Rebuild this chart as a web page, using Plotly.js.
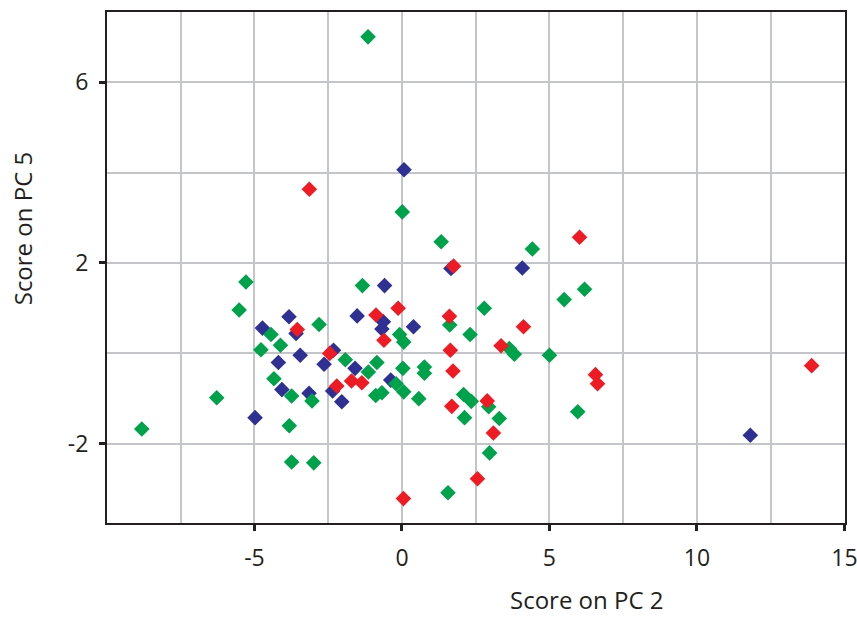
<!DOCTYPE html>
<html>
<head>
<meta charset="utf-8">
<script src="https://cdn.plot.ly/plotly-3.0.1.min.js"></script>
<style>html,body{margin:0;padding:0;background:#fff;}#chart{width:857px;height:620px;}</style>
</head>
<body>
<div id="chart"></div>
<script>
// Scores on PC 2 (x) and PC 5 (y), three groups
const greenX = [-1.15, 0.01, 1.33, 4.42, 6.19, 5.50, -5.29, -5.52, -1.34, 2.79, 5.00, 5.96, -6.28, -8.82, 1.56, 2.97, -3.74, -2.99, -3.82, -4.44, -2.81, -4.12, -4.78, -4.34, -3.74, -3.05, -0.08, 0.06, -1.92, -0.85, -1.14, 0.03, 0.76, 0.76, -0.20, 0.06, -0.89, -0.68, 0.57, 1.62, 2.31, 3.64, 3.81, 2.09, 2.35, 2.94, 2.12, 3.30];
const greenY = [7.00, 3.13, 2.47, 2.31, 1.42, 1.19, 1.58, 0.96, 1.50, 1.00, -0.04, -1.29, -0.98, -1.67, -3.08, -2.20, -2.40, -2.42, -1.60, 0.42, 0.64, 0.18, 0.08, -0.56, -0.94, -1.05, 0.42, 0.25, -0.14, -0.20, -0.41, -0.33, -0.30, -0.44, -0.67, -0.85, -0.93, -0.87, -1.00, 0.63, 0.42, 0.11, -0.02, -0.91, -1.06, -1.18, -1.42, -1.44];

const redX = [-3.14, 6.02, 1.75, -0.13, -0.88, -3.55, -0.61, -2.45, -2.21, -1.71, -1.36, 1.61, 4.12, 3.36, 1.64, 1.73, 1.69, 2.89, 3.10, 2.56, 0.05, 6.56, 6.63, 13.89];
const redY = [3.63, 2.57, 1.93, 1.00, 0.85, 0.53, 0.29, 0.00, -0.72, -0.61, -0.65, 0.82, 0.59, 0.17, 0.07, -0.39, -1.17, -1.05, -1.76, -2.77, -3.21, -0.47, -0.67, -0.27];

const blueX = [0.07, 1.66, 4.08, -0.59, -1.52, -0.63, -0.68, 0.39, -3.83, -4.73, -3.59, -3.45, -4.19, -4.07, -3.15, -4.98, -2.32, -2.64, -1.59, -2.35, -2.04, -0.38, 11.81];
const blueY = [4.06, 1.88, 1.89, 1.50, 0.83, 0.70, 0.54, 0.59, 0.81, 0.56, 0.44, -0.04, -0.20, -0.80, -0.88, -1.42, 0.07, -0.24, -0.33, -0.83, -1.07, -0.59, -1.81];

const xTickVals = [-5, 0, 5, 10, 15];
const xTickText = ['-5', '0', '5', '10', '15'];
const xGridVals = [-7.5, -2.5, 2.5, 7.5, 12.5];
const yTickVals = [-2, 2, 6];
const yTickText = ['-2', '2', '6'];
const yGridVals = [0, 4];

const xTitle = 'Score on PC 2';
const yTitle = 'Score on PC 5';

const FONT = '"Open Sans", "Noto Sans", sans-serif';
const INK = '#231f20';
const GRID = '#c4c5c8';

function mk(x, y, color) {
  return {
    x: x, y: y, type: 'scatter', mode: 'markers', hoverinfo: 'skip',
    marker: {symbol: 'diamond', size: 12, color: color, line: {width: 0}}
  };
}

const data = [
  mk(blueX, blueY, '#2e3192'),
  mk(greenX, greenY, '#00a14b'),
  mk(redX, redY, '#ed1c24')
];

const axisCommon = {
  showline: true, linecolor: INK, linewidth: 2, mirror: true,
  ticks: 'outside', ticklen: 6, tickwidth: 3, tickcolor: INK,
  showgrid: true, gridcolor: GRID, gridwidth: 2,
  zeroline: false,
  ticklabeloverflow: 'allow',
  tickfont: {family: FONT, size: 23, color: INK}
};

const layout = {
  width: 857, height: 620,
  margin: {l: 107, r: 12, t: 12, b: 97},
  paper_bgcolor: '#ffffff', plot_bgcolor: '#ffffff',
  showlegend: false,
  xaxis: Object.assign({}, axisCommon, {
    range: [-10, 15.02],
    tickmode: 'array', tickvals: xTickVals, ticktext: xTickText,
    minor: {tickvals: xGridVals, showgrid: true, gridcolor: GRID, gridwidth: 2, ticks: ''},
    ticklabelstandoff: 7
  }),
  yaxis: Object.assign({}, axisCommon, {
    range: [-3.75, 7.55],
    tickmode: 'array', tickvals: yTickVals, ticktext: yTickText,
    minor: {tickvals: yGridVals, showgrid: true, gridcolor: GRID, gridwidth: 2, ticks: ''},
    ticklabelstandoff: 6
  }),
  annotations: [
    {text: xTitle, xref: 'paper', yref: 'paper', x: 0.65, y: -0.15, xanchor: 'center', yanchor: 'middle',
     showarrow: false, font: {family: FONT, size: 24, color: INK}},
    {text: yTitle, xref: 'paper', yref: 'paper', x: -0.115, y: 0.577, xanchor: 'center', yanchor: 'middle',
     textangle: -90, showarrow: false, font: {family: FONT, size: 24, color: INK}}
  ]
};

Plotly.newPlot('chart', data, layout, {displayModeBar: false, staticPlot: true});
</script>
</body>
</html>
